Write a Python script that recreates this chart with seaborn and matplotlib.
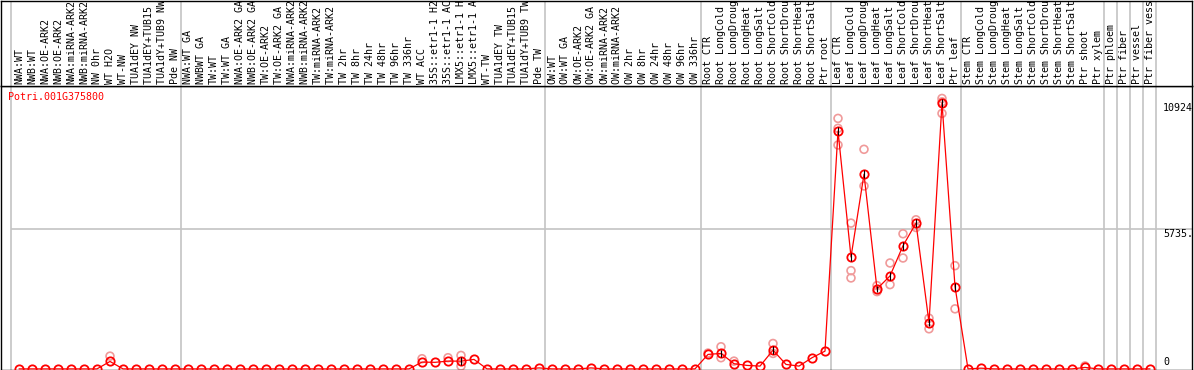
import numpy as np
import pandas as pd
import matplotlib
matplotlib.use("Agg")
import matplotlib.pyplot as plt
import seaborn as sns

# sample labels, one per column
labels = [
    "NWA:WT", "NWB:WT", "NWA:OE-ARK2", "NWB:OE-ARK2", "NWA:miRNA-ARK2", "NWB:miRNA-ARK2",
    "NW 0hr", "WT H2O", "WT-NW", "TUA1dEY NW", "TUA1dEY+TUB15 NW", "TUA1dY+TUB9 NW", "Pde NW",
    "NWA:WT GA", "NWBWT GA", "TW:WT", "TW:WT GA", "NWA:OE-ARK2 GA", "NWB:OE-ARK2 GA",
    "TW:OE-ARK2", "TW:OE-ARK2 GA", "NWA:miRNA-ARK2 GA", "NWB:miRNA-ARK2 GA", "TW:miRNA-ARK2",
    "TW:miRNA-ARK2 GA", "TW 2hr", "TW 8hr", "TW 24hr", "TW 48hr", "TW 96hr", "TW 336hr",
    "WT ACC", "35S::etr1-1 H2O", "35S::etr1-1 ACC", "LMX5::etr1-1 H2O", "LMX5::etr1-1 ACC",
    "WT-TW", "TUA1dEY TW", "TUA1dEY+TUB15 TW", "TUA1dY+TUB9 TW", "Pde TW",
    "OW:WT", "OW:WT GA", "OW:OE-ARK2", "OW:OE-ARK2 GA", "OW:miRNA-ARK2", "OW:miRNA-ARK2 GA",
    "OW 2hr", "OW 8hr", "OW 24hr", "OW 48hr", "OW 96hr", "OW 336hr",
    "Root CTR", "Root LongCold", "Root LongDrought", "Root LongHeat", "Root LongSalt",
    "Root ShortCold", "Root ShortDrought", "Root ShortHeat", "Root ShortSalt", "Ptr root",
    "Leaf CTR", "Leaf LongCold", "Leaf LongDrought", "Leaf LongHeat", "Leaf LongSalt",
    "Leaf ShortCold", "Leaf ShortDrought", "Leaf ShortHeat", "Leaf ShortSalt", "Ptr leaf",
    "Stem CTR", "Stem LongCold", "Stem LongDrought", "Stem LongHeat", "Stem LongSalt",
    "Stem ShortCold", "Stem ShortDrought", "Stem ShortHeat", "Stem ShortSalt", "Ptr shoot",
    "Ptr xylem", "Ptr phloem", "Ptr fiber", "Ptr vessel", "Ptr fiber vessel",
]

# number of samples in each group (gray separators)
group_sizes = [13, 28, 12, 10, 10, 11, 1, 1, 1, 1]

# mean expression per sample
mean_nw = [0, 0, 0, 0, 0, 0, 0, 305, 0, 0, 0, 0, 0]
mean_tw = [0] * 18 + [279, 270, 319, 319, 389, 0, 0, 0, 0, 40]
mean_ow = [0, 0, 0, 40, 0, 0, 0, 0, 0, 0, 0, 0]
mean_root = [594, 635, 213, 143, 115, 770, 184, 115, 459, 729]
mean_leaf = [9769, 4596, 7995, 3285, 3817, 5059, 5988, 1905, 10924, 3379]
mean_stem = [0, 30, 0, 0, 0, 0, 0, 0, 0, 60, 0, 0, 0, 0, 0]

# individual replicates that stand apart from the mean
rep_idx = [7, 31, 33, 34, 34, 53, 54, 54, 55, 58, 58,
           63, 63, 63, 64, 64, 64, 65, 65, 66, 66, 67, 67, 68, 68,
           69, 69, 70, 70, 71, 71, 71, 72, 72, 82]
rep_val = [524, 418, 459, 553, 115, 650, 909, 459, 319, 1044, 635,
           10289, 9880, 9196, 5988, 4035, 3736, 9019, 7513, 3420, 3174, 4350, 3461, 5550, 4555,
           6124, 5808, 2081, 1647, 11108, 10969, 10494, 4239, 2466, 120]

gene = "Potri.001G375800"
ytick_vals = [10924, 5735, 0]
ytick_text = ["10924", "5735.5", "0"]

means = mean_nw + mean_tw + mean_ow + mean_root + mean_leaf + mean_stem
df = pd.DataFrame({"idx": np.arange(len(means)), "expr": means, "label": labels})
reps = pd.DataFrame({"idx": rep_idx, "expr": rep_val})
# error bars stay within the marker, as in the original
sem = reps.groupby("idx")["expr"].sem().dropna().clip(upper=160)

sns.set_style("white")
plt.rcParams["font.family"] = ["DejaVu Sans Mono"]

W, H = 1194, 370
fig = plt.figure(figsize=(W / 100, H / 100), dpi=100)
x0, x1 = 1, 1192
xlim = ((x0 - 19) / 13, (x1 - 19) / 13)
head_bot = 85.5
ax = fig.add_axes([x0 / W, (H - 369.5) / H, (x1 - x0) / W, (369.5 - head_bot) / H])
axh = fig.add_axes([x0 / W, (H - head_bot) / H, (x1 - x0) / W, (head_bot - 0.5) / H])

for a in (ax, axh):
    a.set_xlim(*xlim)
    a.set_xticks([])
    a.set_yticks([])
    for s in a.spines.values():
        s.set_color("black")
        s.set_linewidth(1.0)

ax.set_ylim(-25, 11640)
axh.set_ylim(head_bot, 0)

# group separators
seps = [-0.64] + list(np.cumsum(group_sizes) - 0.55)
for a in (ax, axh):
    for s in seps:
        a.axvline(s, color="#c4c4c4", lw=1.2, zorder=0)
ax.hlines(5735, seps[0], xlim[1], color="#c4c4c4", lw=1.2, zorder=0)

# replicates
sns.scatterplot(data=reps, x="idx", y="expr", ax=ax, marker="o", s=32,
                facecolor="none", edgecolor="#f09a9a", linewidth=1.2, zorder=2, legend=False)
# means
sns.lineplot(data=df, x="idx", y="expr", ax=ax, color="red", lw=0.9, marker="o",
             markersize=6.0, markerfacecolor="none", markeredgecolor="red",
             markeredgewidth=1.3, zorder=3, legend=False)
ax.errorbar(sem.index, df.loc[sem.index, "expr"], yerr=sem.values, fmt="none",
            ecolor="black", elinewidth=0.8, capsize=0, zorder=4)
ax.set_xlabel("")
ax.set_ylabel("")
ax.set_xlim(*xlim)
ax.set_ylim(-25, 11640)

# column labels
for i, lab in enumerate(labels):
    axh.text(i, 84.2, lab, rotation=90, ha="center", va="bottom", fontsize=7.2,
             color="black", clip_on=True)

# value labels on the right
for v, t in zip(ytick_vals, ytick_text):
    ax.text(88.0, v + (90 if v == 0 else 0), t, ha="left",
            va="bottom" if v == 0 else "top", fontsize=7.2, color="black", clip_on=True)

fig.text(8 / W, 1 - 97 / H, gene, color="red", fontsize=7.2, ha="left", va="center")

fig.savefig("out.png", dpi=100)
